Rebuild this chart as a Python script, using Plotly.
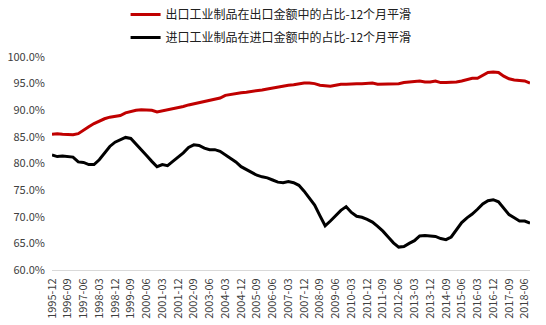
import plotly.graph_objects as go
import pandas as pd

# Quarterly categories from 1995-12 to 2018-09
categories = [d.strftime("%Y-%m") for d in pd.date_range("1995-12-01", "2018-09-01", freq="3MS")]

export_share = [85.5, 85.6, 85.5, 85.5, 85.4, 85.6, 86.3, 86.9, 87.5, 88.0,
                88.4, 88.7, 88.9, 89.0, 89.5, 89.8, 90.0, 90.1, 90.1, 90.0,
                89.7, 89.9, 90.0, 90.2, 90.4, 90.7, 91.0, 91.2, 91.4, 91.6,
                91.8, 92.0, 92.3, 92.8, 93.0, 93.2, 93.3, 93.4, 93.5, 93.6,
                93.8, 94.0, 94.2, 94.4, 94.5, 94.7, 94.8, 95.0, 95.1, 95.1,
                95.0, 94.7, 94.6, 94.5, 94.7, 94.9, 94.9, 95.0, 95.0, 95.0,
                95.0, 95.1, 94.9, 94.9, 94.9, 94.9, 95.0, 95.2, 95.3, 95.5,
                95.5, 95.3, 95.3, 95.5, 95.2, 95.2, 95.2, 95.3, 95.5, 95.8,
                96.0, 96.0, 96.6, 97.1, 97.2, 97.1, 96.4, 95.9, 95.7, 95.6,
                95.5, 95.1]

import_share = [81.6, 81.3, 81.4, 81.3, 81.2, 80.3, 80.2, 79.8, 79.8, 80.7,
                82.0, 83.2, 84.0, 84.5, 84.9, 84.7, 83.7, 82.5, 81.5, 80.4,
                79.4, 79.8, 79.6, 80.4, 81.2, 82.0, 83.0, 83.5, 83.4, 82.9,
                82.6, 82.6, 82.3, 81.6, 80.9, 80.3, 79.4, 78.9, 78.3, 77.8,
                77.5, 77.3, 76.9, 76.5, 76.4, 76.6, 76.4, 75.9, 74.8, 73.5,
                72.2, 70.2, 68.3, 69.2, 70.2, 71.2, 71.9, 70.8, 70.1, 69.9,
                69.5, 69.0, 68.2, 67.3, 66.2, 65.1, 64.3, 64.4, 65.0, 65.5,
                66.4, 66.5, 66.4, 66.3, 65.9, 65.7, 66.2, 67.5, 68.9, 69.8,
                70.5, 71.4, 72.4, 73.0, 73.2, 72.8, 71.5, 70.4, 69.8, 69.2,
                69.2, 68.8]

series_names = ["出口工业制品在出口金额中的占比-12个月平滑",
                "进口工业制品在进口金额中的占比-12个月平滑"]
y_ticks = [60, 65, 70, 75, 80, 85, 90, 95, 100]
tick_labels = categories[::3]

font_family = "Noto Sans CJK SC, DejaVu Sans, sans-serif"

fig = go.Figure()
fig.add_trace(go.Scatter(x=categories, y=export_share, name=series_names[0], mode="lines",
                         legendgroup="a", line=dict(color="#C00000", width=3)))
fig.add_trace(go.Scatter(x=categories, y=import_share, name=series_names[1], mode="lines",
                         legendgroup="b", line=dict(color="#000000", width=3)))

fig.update_layout(
    width=546, height=325,
    margin=dict(l=52, r=16, t=57, b=55, autoexpand=False),
    paper_bgcolor="white", plot_bgcolor="white",
    font=dict(family=font_family, color="#404040", size=11),
    showlegend=True,
    legend=dict(orientation="v", xref="container", yref="container",
                x=0.23, y=1.0, xanchor="left", yanchor="top",
                font=dict(size=12, color="#202020"), itemwidth=30,
                tracegroupgap=4, bgcolor="rgba(0,0,0,0)"),
)
fig.update_xaxes(type="category", range=[0, len(categories) - 1],
                 tickmode="array", tickvals=tick_labels, ticktext=tick_labels,
                 tickangle=-90, tickfont=dict(size=11, color="#404040"),
                 showgrid=False, showline=True, linecolor="#D9D9D9", linewidth=1,
                 ticks="", zeroline=False, automargin=False, ticklabelstandoff=3)
fig.update_yaxes(range=[60, 100], tickvals=y_ticks,
                 ticktext=[f"{v:.1f}%" for v in y_ticks],
                 tickfont=dict(size=11, color="#404040"),
                 showgrid=False, showline=False, zeroline=False, ticks="", automargin=False,
                 ticklabelstandoff=6)

fig.write_html("out.html")
